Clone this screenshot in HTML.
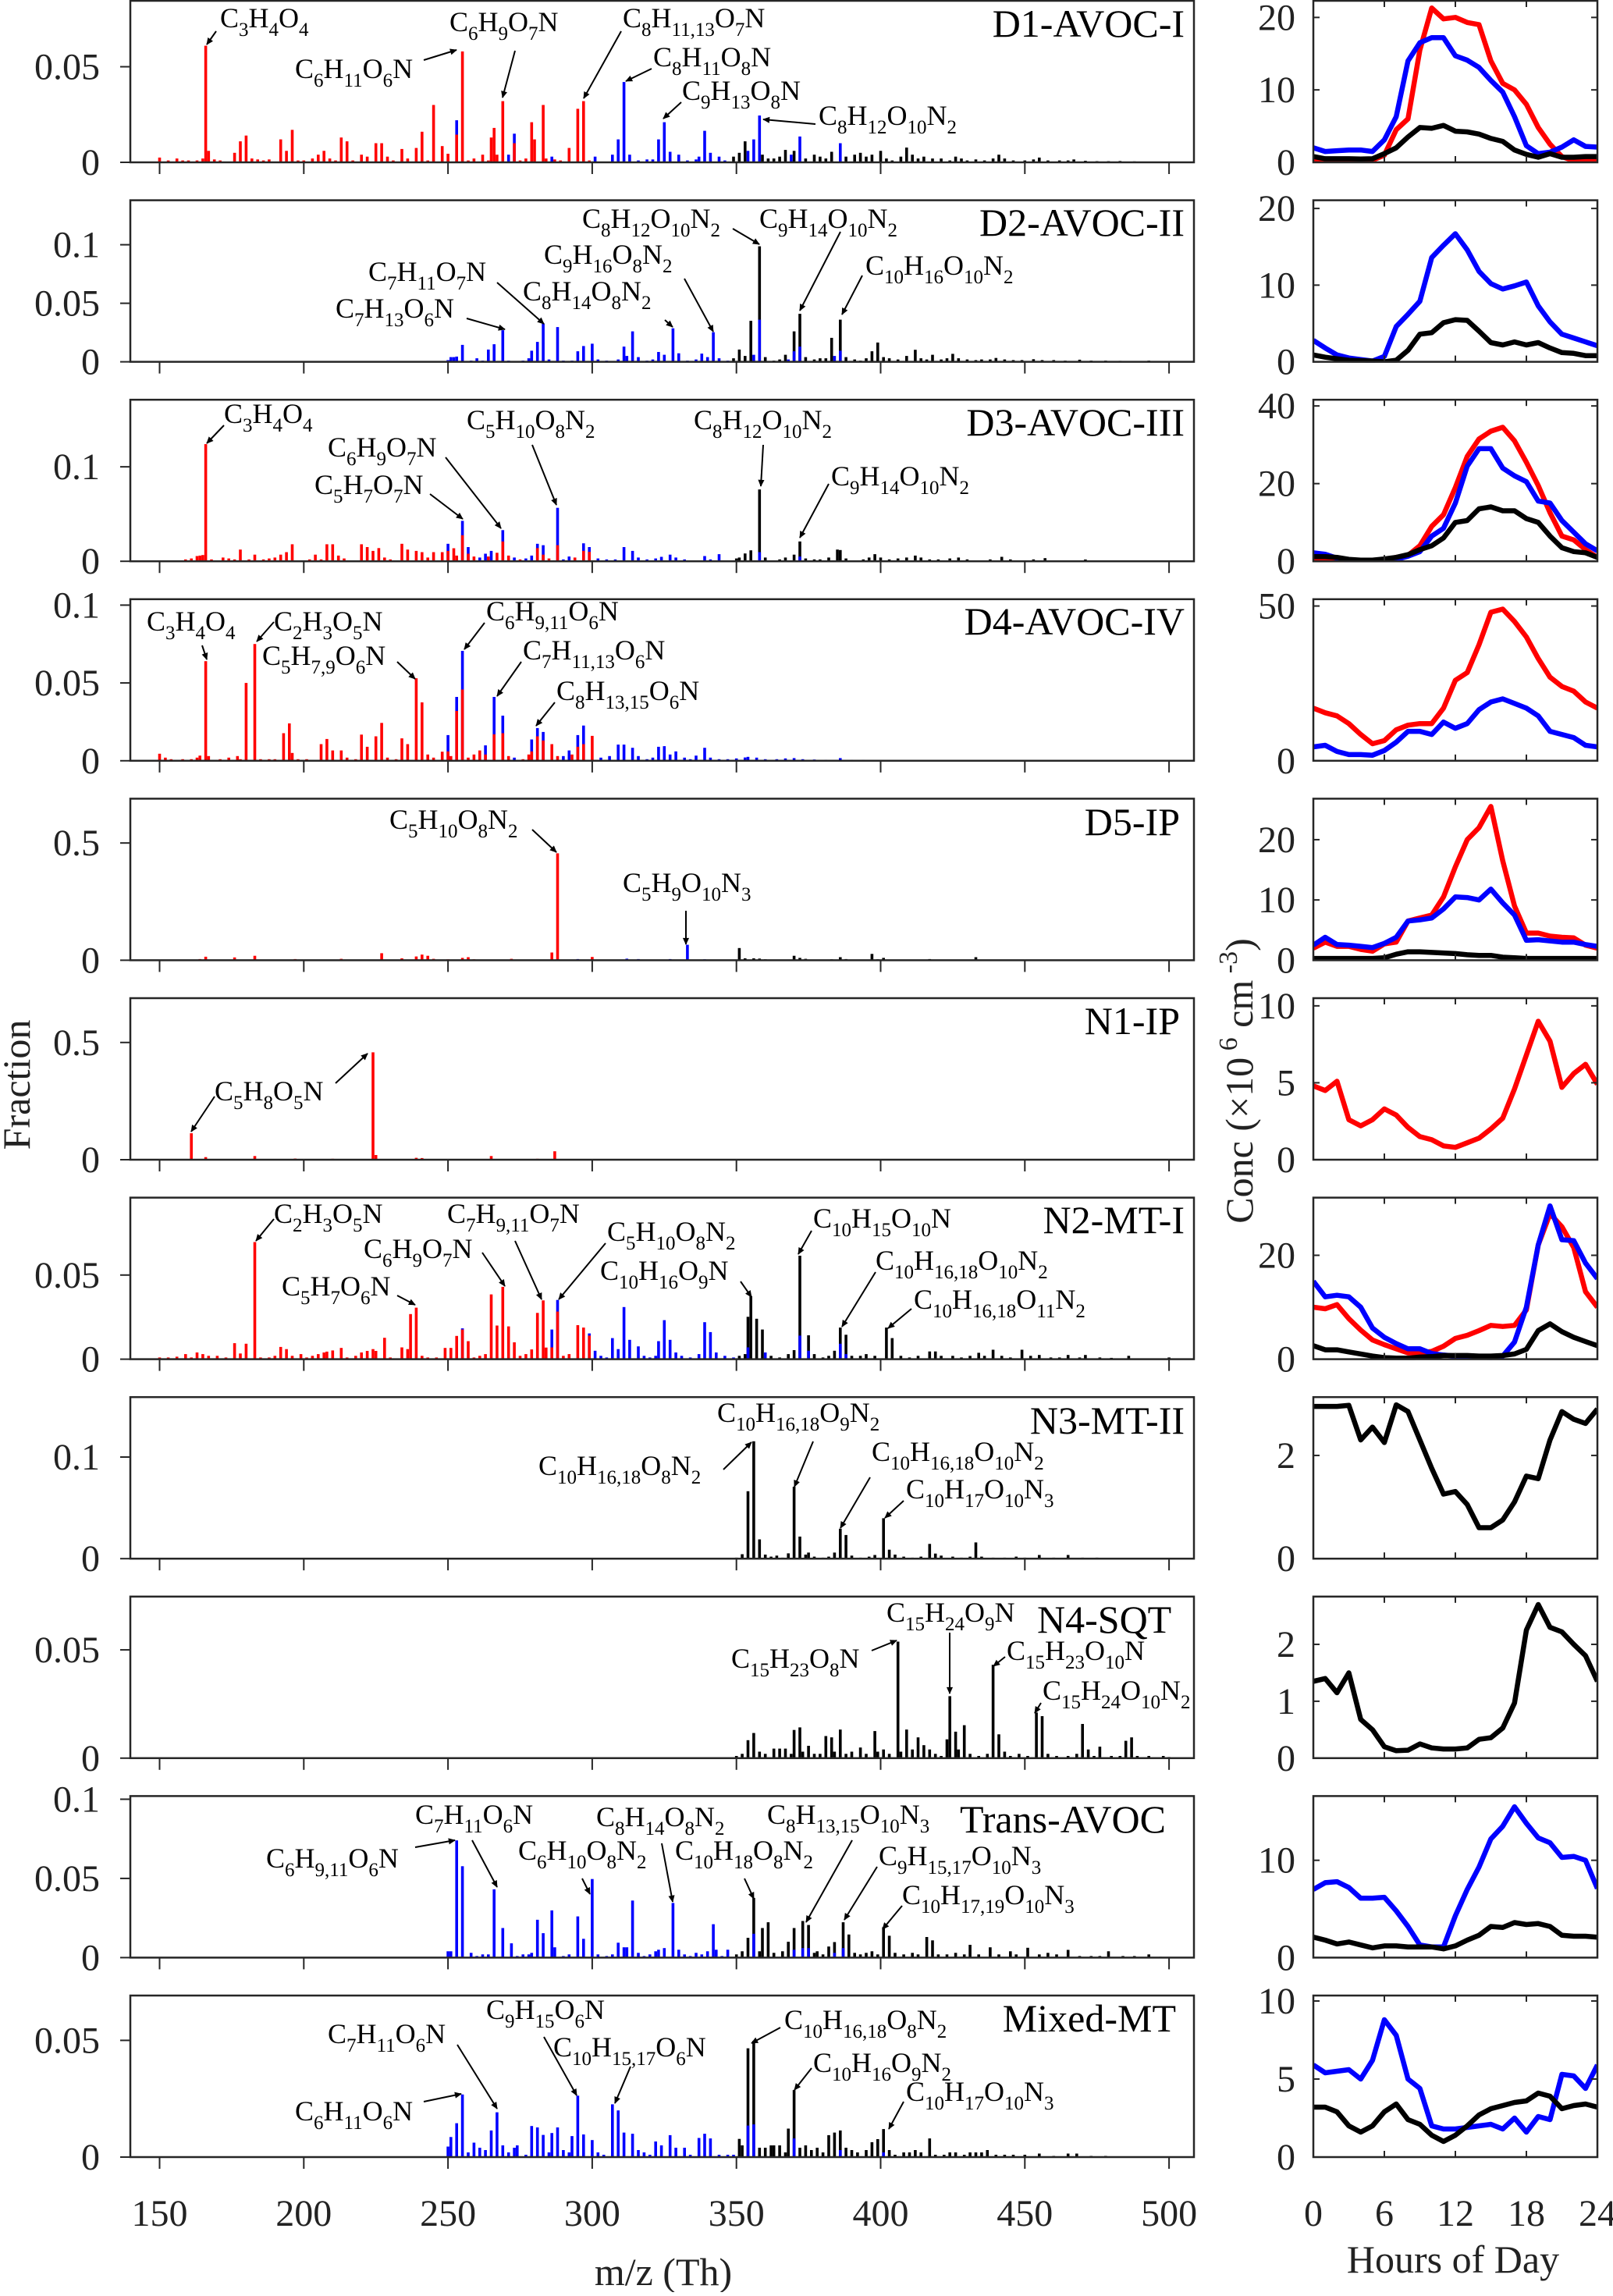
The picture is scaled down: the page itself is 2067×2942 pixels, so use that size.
<!DOCTYPE html>
<html><head><meta charset="utf-8"><title>Factor mass spectra and diurnal profiles</title>
<style>
html,body{margin:0;padding:0;background:#fff;}
svg, svg text, svg tspan{font-family:"Liberation Serif","Times New Roman",Times,serif;}
</style></head>
<body>
<svg id="chart" xmlns="http://www.w3.org/2000/svg" width="2067" height="2937" viewBox="0 0 2067 2937" font-family="Liberation Serif, Times New Roman, Times, serif">
<defs>
<marker id="arrowhead" viewBox="0 0 10 10" refX="9" refY="5" markerWidth="11" markerHeight="9" orient="auto-start-reverse" markerUnits="userSpaceOnUse">
<path d="M0,0.5 L10,5 L0,9.5 Z" fill="#000"/>
</marker>
</defs>
<rect x="0" y="0" width="2067" height="2937" fill="#fff"/>
<text x="0" y="0" font-size="50" font-family="Liberation Serif, serif" text-anchor="middle" fill="#222" transform="translate(38,1390) rotate(-90)">Fraction</text>
<text x="0" y="0" font-size="50" font-family="Liberation Serif, serif" text-anchor="middle" fill="#222" transform="translate(1605,1385) rotate(-90)">Conc (×10<tspan font-size="34" dy="-20"> 6</tspan><tspan dy="20"> cm</tspan><tspan font-size="34" dy="-20"> -3</tspan><tspan dy="20">)</tspan></text>
<text x="850" y="2928" font-size="50" font-family="Liberation Serif, serif" text-anchor="middle" fill="#222">m/z (Th)</text>
<text x="1862" y="2912" font-size="50" font-family="Liberation Serif, serif" text-anchor="middle" fill="#222">Hours of Day</text>
</svg>
<script>
// ---------------- data ----------------
const panelNames = ['D1-AVOC-I','D2-AVOC-II','D3-AVOC-III','D4-AVOC-IV','D5-IP','N1-IP','N2-MT-I','N3-MT-II','N4-SQT','Trans-AVOC','Mixed-MT'];
const leftMax = [0.0845,0.138,0.171,0.1038,0.689,0.689,0.096,0.159,0.0746,0.102,0.0692];
const leftTicks = [[0,0.05],[0,0.05,0.1],[0,0.1],[0,0.05,0.1],[0,0.5],[0,0.5],[0,0.05],[0,0.1],[0,0.05],[0,0.05,0.1],[0,0.05]];
const leftTickLabels = [['0','0.05'],['0','0.05','0.1'],['0','0.1'],['0','0.05','0.1'],['0','0.5'],['0','0.5'],['0','0.05'],['0','0.1'],['0','0.05'],['0','0.05','0.1'],['0','0.05']];
const mzTicks = [150,200,250,300,350,400,450,500];
const mzTickLabels = ['150','200','250','300','350','400','450','500'];
const hourTicks = [0,6,12,18,24];
const hourTickLabels = ['0','6','12','18','24'];
const hours = [0,1,2,3,4,5,6,7,8,9,10,11,12,13,14,15,16,17,18,19,20,21,22,23,24];
const rightMax = [22.3,21.07,41.6,52.2,26.8,10.5,31.1,3.13,2.84,16.6,10.35];
const rightTicks = [[0,10,20],[0,10,20],[0,20,40],[0,50],[0,10,20],[0,5,10],[0,20],[0,2],[0,1,2],[0,10],[0,5,10]];
const rightTickLabels = [['0','10','20'],['0','10','20'],['0','20','40'],['0','50'],['0','10','20'],['0','5','10'],['0','20'],['0','2'],['0','1','2'],['0','10'],['0','5','10']];
const seriesColors = ['#ff0000','#0000ff','#000000'];

// bars: [m/z, fraction, colorIndex(0 red,1 blue,2 black)]
const bars1 = [[150,0.0025,0],[153,0.001,0],[156,0.002,0],[158,0.001,0],[160,0.001,0],[163,0.001,0],[165,0.002,0],[166,0.061,0],[167,0.006,0],[169,0.0015,0],[171,0.001,0],[176,0.005,0],[178,0.011,0],[180,0.014,0],[182,0.002,0],[184,0.0015,0],[186,0.001,0],[188,0.0015,0],[192,0.012,0],[194,0.006,0],[196,0.017,0],[198,0.001,0],[200,0.001,0],[203,0.002,0],[205,0.004,0],[207,0.006,0],[209,0.002,0],[211,0.001,0],[213,0.013,0],[215,0.011,0],[217,0.001,0],[220,0.004,0],[222,0.003,0],[225,0.010,0],[227,0.010,0],[229,0.003,0],[231,0.001,0],[234,0.007,0],[236,0.002,0],[239,0.0075,0],[241,0.016,0],[243,0.001,0],[245,0.030,0],[248,0.0085,0],[250,0.0045,0],[253,0.022,1],[253,0.0145,0],[255,0.058,0],[257,0.001,0],[259,0.002,0],[262,0.004,0],[264,0.001,0],[265,0.013,0],[266,0.018,0],[267,0.004,0],[269,0.032,0],[271,0.004,1],[273,0.015,1],[273,0.010,0],[275,0.001,0],[277,0.002,0],[279,0.021,0],[280,0.012,0],[283,0.030,0],[284,0.002,0],[286,0.003,1],[287,0.0015,0],[289,0.001,0],[292,0.0075,0],[295,0.028,0],[297,0.032,0],[299,0.001,0],[301,0.003,1],[307,0.004,1],[309,0.012,1],[311,0.042,1],[313,0.004,1],[316,0.001,1],[319,0.0015,1],[321,0.0015,1],[323,0.012,1],[325,0.021,1],[327,0.0055,1],[330,0.004,1],[333,0.001,1],[336,0.0015,1],[337,0.003,1],[339,0.0165,1],[341,0.005,1],[344,0.003,1],[346,0.001,1],[349,0.003,2],[351,0.005,2],[353,0.011,2],[354,0.006,1],[356,0.012,1],[358,0.0245,1],[359,0.004,2],[361,0.002,2],[363,0.002,2],[365,0.003,2],[367,0.0065,2],[369,0.004,1],[370,0.006,2],[372,0.0135,1],[374,0.002,2],[377,0.004,2],[379,0.003,2],[381,0.002,2],[383,0.0055,2],[386,0.010,1],[388,0.003,2],[391,0.004,2],[393,0.005,2],[395,0.003,2],[397,0.004,2],[400,0.006,2],[402,0.002,2],[404,0.001,2],[407,0.003,2],[409,0.0077,2],[411,0.004,2],[413,0.002,2],[415,0.003,2],[418,0.002,2],[421,0.002,2],[424,0.001,2],[426,0.003,2],[428,0.002,2],[430,0.001,2],[433,0.0015,2],[436,0.001,2],[439,0.002,2],[441,0.004,2],[443,0.002,2],[446,0.001,2],[450,0.001,2],[453,0.0015,2],[455,0.0025,2],[458,0.001,2],[462,0.001,2],[465,0.001,2],[467,0.0015,2],[471,0.0008,2],[475,0.0006,2],[479,0.0006,2],[483,0.0007,2],[488,0.0005,2],[492,0.0004,2],[497,0.0003,2]];
const bars2 = [[250,0.0015,1],[251,0.004,1],[252,0.004,1],[253,0.0045,1],[255,0.0145,1],[258,0.001,1],[260,0.003,1],[262,0.001,1],[264,0.0105,1],[266,0.015,1],[269,0.027,1],[271,0.001,1],[276,0.001,1],[278,0.003,1],[279,0.0095,1],[281,0.017,1],[283,0.0326,1],[285,0.002,1],[288,0.0297,1],[290,0.001,1],[293,0.001,1],[295,0.009,1],[297,0.0135,1],[300,0.0155,1],[302,0.002,1],[305,0.001,1],[309,0.002,1],[311,0.013,1],[312,0.005,1],[314,0.026,1],[316,0.004,1],[319,0.001,1],[321,0.002,1],[323,0.0084,1],[325,0.006,1],[328,0.0286,1],[330,0.0073,1],[333,0.001,1],[336,0.002,1],[338,0.007,1],[340,0.004,1],[342,0.0253,1],[344,0.003,1],[347,0.001,1],[349,0.003,2],[351,0.0105,2],[353,0.005,2],[355,0.035,2],[356,0.006,1],[358,0.0987,2],[358,0.036,1],[360,0.004,2],[363,0.001,2],[365,0.002,2],[367,0.006,2],[368,0.002,1],[370,0.026,2],[370,0.009,1],[372,0.041,2],[372,0.013,1],[374,0.004,2],[377,0.002,2],[379,0.003,2],[381,0.003,2],[383,0.0205,2],[384,0.005,1],[386,0.036,2],[386,0.0095,1],[388,0.004,2],[391,0.002,2],[393,0.001,2],[395,0.003,2],[397,0.009,2],[399,0.0165,2],[401,0.004,2],[403,0.003,2],[406,0.002,2],[409,0.005,2],[412,0.0103,2],[414,0.003,2],[416,0.002,2],[418,0.006,2],[421,0.002,2],[423,0.003,2],[425,0.0068,2],[427,0.003,2],[430,0.002,2],[433,0.0015,2],[435,0.002,2],[438,0.002,2],[440,0.0033,2],[443,0.002,2],[446,0.0015,2],[449,0.0015,2],[453,0.0022,2],[456,0.0015,2],[460,0.0015,2],[464,0.001,2],[469,0.0018,2],[473,0.001,2],[478,0.001,2],[483,0.0008,2],[488,0.0006,2],[493,0.001,2],[498,0.0004,2]];
const bars3 = [[156,0.001,0],[159,0.002,0],[161,0.003,0],[163,0.0055,0],[164,0.006,0],[165,0.0066,0],[166,0.124,0],[168,0.002,0],[172,0.004,0],[174,0.003,0],[176,0.002,0],[178,0.0124,0],[181,0.002,0],[183,0.007,0],[186,0.002,0],[188,0.003,0],[190,0.004,0],[192,0.007,0],[194,0.0097,0],[196,0.018,0],[199,0.001,0],[202,0.002,0],[204,0.007,0],[206,0.002,0],[208,0.018,0],[210,0.018,0],[212,0.006,0],[214,0.003,0],[217,0.001,0],[220,0.018,0],[222,0.015,0],[224,0.011,0],[226,0.014,0],[228,0.004,0],[230,0.002,0],[234,0.0185,0],[236,0.0124,0],[239,0.011,0],[241,0.0097,0],[243,0.004,0],[245,0.0097,0],[248,0.0097,0],[250,0.0185,1],[250,0.011,0],[252,0.0138,0],[253,0.006,0],[255,0.0428,1],[255,0.0276,0],[257,0.015,1],[257,0.008,0],[259,0.005,0],[261,0.004,1],[263,0.008,1],[264,0.005,0],[265,0.011,1],[267,0.009,0],[269,0.033,1],[269,0.021,0],[271,0.006,0],[273,0.004,1],[275,0.002,0],[277,0.003,1],[279,0.006,1],[281,0.0185,1],[281,0.014,0],[283,0.017,1],[283,0.007,0],[285,0.003,0],[288,0.0566,1],[288,0.017,0],[290,0.002,1],[292,0.005,1],[294,0.004,0],[297,0.019,1],[297,0.011,0],[299,0.015,1],[299,0.010,0],[302,0.003,1],[305,0.002,1],[308,0.002,1],[311,0.015,1],[314,0.011,1],[316,0.004,1],[319,0.002,1],[322,0.003,1],[324,0.0047,1],[327,0.007,1],[329,0.004,1],[332,0.002,1],[335,0.001,1],[339,0.0055,1],[341,0.002,1],[344,0.0075,1],[347,0.001,1],[350,0.003,2],[351,0.004,2],[353,0.0083,2],[355,0.0116,2],[358,0.076,2],[358,0.0097,1],[360,0.004,2],[362,0.001,2],[365,0.002,2],[367,0.004,2],[370,0.007,2],[372,0.021,2],[372,0.005,1],[374,0.003,2],[377,0.002,2],[379,0.002,2],[382,0.004,2],[385,0.0124,2],[386,0.0119,2],[388,0.003,2],[391,0.001,2],[394,0.002,2],[396,0.004,2],[398,0.0075,2],[400,0.004,2],[403,0.002,2],[406,0.003,2],[409,0.004,2],[412,0.006,2],[414,0.004,2],[417,0.002,2],[420,0.002,2],[424,0.003,2],[427,0.004,2],[430,0.002,2],[434,0.001,2],[438,0.002,2],[442,0.0047,2],[445,0.002,2],[449,0.001,2],[453,0.002,2],[457,0.0033,2],[461,0.001,2],[466,0.001,2],[471,0.0019,2],[476,0.001,2],[482,0.0008,2],[487,0.001,2],[493,0.0005,2]];
const bars4 = [[150,0.0045,0],[152,0.002,0],[154,0.001,0],[158,0.001,0],[161,0.001,0],[163,0.002,0],[164,0.0033,0],[166,0.064,0],[167,0.003,0],[171,0.001,0],[174,0.002,0],[177,0.003,0],[178,0.001,0],[180,0.050,0],[183,0.075,0],[185,0.001,0],[188,0.001,0],[190,0.001,0],[193,0.0177,0],[195,0.024,0],[196,0.005,0],[198,0.001,0],[201,0.001,0],[206,0.0107,0],[208,0.014,0],[210,0.0066,0],[213,0.0066,0],[215,0.002,0],[218,0.001,0],[220,0.0168,0],[222,0.009,0],[225,0.0157,0],[227,0.0243,0],[229,0.002,0],[232,0.001,0],[234,0.0144,0],[236,0.0107,0],[239,0.053,0],[241,0.0375,0],[243,0.004,0],[245,0.002,0],[248,0.0058,0],[250,0.0165,1],[250,0.006,0],[251,0.003,0],[253,0.041,1],[253,0.032,0],[255,0.0706,1],[255,0.0458,0],[257,0.002,0],[259,0.004,0],[261,0.0066,0],[263,0.0099,1],[263,0.004,0],[266,0.041,1],[266,0.017,0],[269,0.029,1],[269,0.0177,0],[271,0.003,0],[273,0.002,1],[276,0.001,0],[278,0.004,0],[279,0.0137,1],[279,0.006,0],[281,0.021,1],[281,0.0157,0],[283,0.0185,1],[283,0.013,0],[286,0.0107,0],[288,0.003,0],[290,0.003,1],[292,0.0066,1],[293,0.004,0],[295,0.0165,1],[295,0.009,0],[297,0.0226,1],[297,0.0107,0],[300,0.016,0],[303,0.002,1],[306,0.003,1],[309,0.0104,1],[311,0.0104,1],[314,0.0083,1],[316,0.003,1],[319,0.001,1],[321,0.002,1],[323,0.009,1],[325,0.0094,1],[327,0.004,1],[329,0.006,1],[332,0.002,1],[334,0.001,1],[336,0.0033,1],[339,0.0083,1],[341,0.002,1],[344,0.001,1],[347,0.001,1],[350,0.0015,1],[353,0.0021,1],[354,0.0025,1],[357,0.002,1],[360,0.001,1],[364,0.001,1],[367,0.0015,1],[370,0.0017,1],[373,0.001,1],[377,0.0008,1],[381,0.0006,1],[386,0.0017,1],[390,0.0005,1],[394,0.0005,1]];
const bars5 = [[155,0.002,0],[160,0.003,0],[164,0.005,0],[166,0.015,0],[172,0.002,0],[176,0.012,0],[178,0.002,0],[183,0.019,0],[190,0.002,0],[195,0.003,0],[197,0.005,0],[204,0.002,0],[210,0.002,0],[213,0.006,0],[218,0.002,0],[222,0.002,0],[227,0.030,0],[230,0.002,0],[234,0.008,0],[237,0.003,0],[239,0.016,0],[241,0.024,0],[243,0.019,0],[245,0.006,0],[248,0.003,0],[250,0.004,0],[253,0.003,0],[255,0.010,0],[257,0.013,0],[259,0.004,0],[263,0.002,0],[266,0.003,0],[269,0.002,0],[272,0.006,0],[276,0.002,0],[279,0.002,0],[283,0.003,0],[286,0.033,0],[288,0.456,0],[291,0.002,0],[295,0.005,1],[298,0.002,0],[300,0.014,0],[303,0.002,1],[307,0.002,1],[310,0.003,1],[312,0.0066,1],[314,0.003,1],[316,0.005,1],[320,0.002,1],[324,0.003,1],[327,0.005,1],[330,0.002,1],[333,0.066,1],[336,0.003,1],[339,0.004,1],[342,0.002,1],[345,0.003,1],[348,0.002,1],[351,0.052,2],[353,0.008,2],[356,0.008,2],[358,0.007,2],[360,0.004,2],[363,0.003,2],[366,0.002,2],[368,0.003,2],[370,0.019,2],[372,0.010,2],[374,0.006,2],[377,0.003,2],[380,0.002,2],[383,0.004,2],[386,0.013,2],[388,0.005,2],[391,0.002,2],[394,0.002,2],[397,0.027,2],[399,0.004,2],[401,0.010,2],[404,0.003,2],[408,0.002,2],[412,0.002,2],[417,0.005,2],[421,0.002,2],[425,0.002,2],[429,0.003,2],[433,0.013,2],[437,0.002,2],[443,0.001,2],[450,0.001,2],[458,0.001,2],[465,0.002,2],[472,0.001,2],[480,0.001,2]];
const bars6 = [[155,0.001,0],[158,0.002,0],[161,0.113,0],[163,0.001,0],[166,0.011,0],[170,0.001,0],[175,0.002,0],[179,0.002,0],[183,0.0155,0],[187,0.002,0],[192,0.001,0],[197,0.005,0],[202,0.001,0],[206,0.002,0],[210,0.004,0],[214,0.001,0],[219,0.001,0],[224,0.458,0],[225,0.02,0],[228,0.002,0],[232,0.001,0],[236,0.002,0],[239,0.008,0],[241,0.007,0],[245,0.002,0],[250,0.002,0],[254,0.002,0],[258,0.001,0],[262,0.002,0],[265,0.0155,0],[268,0.002,0],[272,0.001,0],[276,0.002,0],[279,0.001,0],[281,0.004,0],[284,0.002,0],[287,0.036,0],[290,0.002,0],[293,0.001,0],[297,0.002,0],[300,0.001,0]];
const bars7 = [[150,0.001,0],[153,0.001,0],[156,0.0015,0],[159,0.003,0],[161,0.001,0],[163,0.004,0],[165,0.003,0],[167,0.002,0],[170,0.002,0],[173,0.001,0],[176,0.0095,0],[178,0.0034,0],[180,0.0092,0],[183,0.0696,0],[185,0.001,0],[188,0.001,0],[190,0.002,0],[192,0.0073,0],[194,0.006,0],[196,0.002,0],[199,0.003,0],[201,0.001,0],[203,0.002,0],[205,0.003,0],[207,0.004,0],[208,0.0045,0],[210,0.0052,0],[213,0.0067,0],[215,0.001,0],[218,0.002,0],[220,0.004,0],[222,0.0049,0],[224,0.006,0],[225,0.0049,0],[228,0.0127,0],[230,0.001,0],[234,0.007,0],[236,0.006,0],[237,0.0268,0],[239,0.0306,0],[241,0.002,0],[243,0.001,0],[246,0.001,0],[249,0.0067,0],[251,0.0067,0],[253,0.0138,0],[255,0.0183,1],[255,0.0176,0],[257,0.0107,0],[259,0.001,0],[261,0.002,0],[263,0.003,0],[265,0.0385,0],[267,0.020,0],[269,0.043,0],[271,0.0195,0],[273,0.010,0],[275,0.002,0],[277,0.003,0],[279,0.0058,0],[281,0.0275,0],[283,0.0349,0],[284,0.0069,0],[286,0.0176,1],[286,0.007,0],[288,0.0352,1],[288,0.0283,0],[290,0.002,0],[292,0.003,0],[295,0.0202,0],[297,0.0188,0],[299,0.0153,1],[299,0.014,0],[301,0.005,1],[303,0.002,1],[305,0.001,1],[307,0.0125,1],[309,0.006,1],[311,0.031,1],[313,0.0115,1],[316,0.0076,1],[318,0.002,1],[320,0.001,1],[322,0.002,1],[323,0.0107,1],[325,0.0232,1],[327,0.0115,1],[329,0.004,1],[331,0.002,1],[334,0.001,1],[337,0.003,1],[339,0.022,1],[341,0.0161,1],[343,0.004,1],[346,0.002,1],[349,0.001,1],[351,0.002,2],[353,0.003,2],[354,0.0252,2],[354,0.007,1],[355,0.0375,2],[357,0.024,2],[359,0.0176,2],[360,0.004,1],[362,0.002,2],[365,0.001,2],[368,0.003,2],[370,0.0054,2],[372,0.0615,2],[372,0.014,1],[375,0.0142,2],[375,0.005,1],[377,0.003,2],[380,0.001,2],[382,0.002,2],[384,0.005,2],[386,0.0188,2],[386,0.0092,1],[388,0.0145,2],[388,0.003,1],[390,0.002,2],[393,0.002,2],[395,0.003,2],[398,0.002,2],[402,0.0188,2],[404,0.0125,2],[407,0.002,2],[410,0.001,2],[413,0.002,2],[417,0.0046,2],[419,0.0046,2],[421,0.002,2],[425,0.002,2],[428,0.001,2],[431,0.002,2],[434,0.0038,2],[436,0.002,2],[439,0.0056,2],[442,0.002,2],[445,0.001,2],[449,0.0056,2],[452,0.002,2],[455,0.0025,2],[459,0.001,2],[462,0.001,2],[465,0.0025,2],[469,0.001,2],[471,0.0025,2],[476,0.001,2],[480,0.0008,2],[486,0.002,2],[490,0.0005,2],[495,0.0005,2],[500,0.001,2]];
const bars8 = [[350,0.001,2],[352,0.0044,2],[354,0.0664,2],[356,0.1155,2],[358,0.019,2],[360,0.004,2],[362,0.002,2],[364,0.003,2],[366,0.001,2],[368,0.0052,2],[370,0.0708,2],[372,0.0217,2],[374,0.004,2],[375,0.006,2],[377,0.002,2],[380,0.001,2],[382,0.002,2],[384,0.006,2],[386,0.0295,2],[388,0.0233,2],[390,0.003,2],[393,0.001,2],[396,0.002,2],[398,0.0036,2],[401,0.0398,2],[403,0.0088,2],[405,0.004,2],[408,0.002,2],[411,0.001,2],[414,0.002,2],[417,0.0145,2],[419,0.005,2],[421,0.003,2],[425,0.002,2],[428,0.001,2],[431,0.002,2],[433,0.016,2],[435,0.002,2],[439,0.001,2],[443,0.001,2],[447,0.002,2],[450,0.001,2],[455,0.0036,2],[460,0.001,2],[465,0.0036,2],[470,0.001,2],[475,0.001,2]];
const bars9 = [[350,0.001,2],[352,0.002,2],[354,0.0083,2],[356,0.0116,2],[358,0.003,2],[360,0.002,2],[363,0.0044,2],[365,0.0044,2],[367,0.0044,2],[369,0.002,2],[370,0.013,2],[372,0.0142,2],[373,0.003,2],[375,0.0057,2],[377,0.002,2],[379,0.002,2],[381,0.0102,2],[383,0.0096,2],[384,0.003,2],[386,0.0132,2],[388,0.002,2],[390,0.003,2],[393,0.0049,2],[395,0.002,2],[398,0.0125,2],[399,0.003,2],[401,0.004,2],[403,0.002,2],[406,0.0538,2],[407,0.003,2],[409,0.0132,2],[411,0.004,2],[413,0.0096,2],[415,0.006,2],[417,0.004,2],[419,0.002,2],[421,0.001,2],[423,0.0087,2],[424,0.0286,2],[426,0.0122,2],[427,0.004,2],[429,0.0152,2],[431,0.002,2],[434,0.001,2],[437,0.002,2],[439,0.0431,2],[441,0.011,2],[443,0.003,2],[445,0.001,2],[448,0.002,2],[451,0.001,2],[454,0.0211,2],[456,0.0194,2],[458,0.002,2],[461,0.001,2],[465,0.001,2],[468,0.002,2],[470,0.0158,2],[472,0.004,2],[474,0.001,2],[476,0.0053,2],[480,0.001,2],[483,0.001,2],[485,0.008,2],[487,0.0096,2],[489,0.001,2],[493,0.001,2],[498,0.001,2],[500,0.0005,2]];
const bars10 = [[250,0.004,1],[251,0.004,1],[253,0.074,1],[255,0.0577,1],[258,0.003,1],[260,0.001,1],[262,0.002,1],[264,0.002,1],[266,0.0431,1],[269,0.0187,1],[272,0.009,1],[274,0.001,1],[276,0.002,1],[278,0.002,1],[279,0.003,1],[281,0.0239,1],[283,0.0154,1],[286,0.0298,1],[287,0.0065,1],[290,0.001,1],[292,0.002,1],[295,0.026,1],[297,0.0119,1],[300,0.0496,1],[302,0.002,1],[305,0.001,1],[307,0.002,1],[309,0.0094,1],[311,0.0065,1],[312,0.0065,1],[314,0.036,1],[316,0.003,1],[318,0.001,1],[320,0.002,1],[322,0.004,1],[323,0.005,1],[325,0.006,1],[328,0.0345,1],[330,0.005,1],[332,0.002,1],[334,0.001,1],[336,0.003,1],[338,0.002,1],[340,0.004,1],[342,0.0211,1],[343,0.005,1],[345,0.001,1],[347,0.005,1],[350,0.002,2],[352,0.004,2],[354,0.0125,2],[356,0.0377,2],[356,0.0151,1],[358,0.004,2],[359,0.0187,2],[361,0.0223,2],[363,0.003,2],[366,0.004,2],[368,0.01,2],[370,0.0187,2],[370,0.005,1],[373,0.0231,2],[373,0.006,1],[375,0.0206,2],[375,0.006,1],[377,0.003,2],[378,0.004,2],[380,0.002,2],[382,0.007,2],[384,0.0098,2],[384,0.003,1],[387,0.0223,2],[387,0.006,1],[389,0.0146,2],[391,0.003,2],[393,0.002,2],[395,0.003,2],[397,0.004,2],[399,0.002,2],[401,0.0192,2],[403,0.0138,2],[405,0.003,2],[408,0.002,2],[411,0.003,2],[413,0.002,2],[416,0.013,2],[418,0.0109,2],[420,0.002,2],[423,0.002,2],[426,0.003,2],[429,0.002,2],[431,0.0081,2],[434,0.002,2],[438,0.0065,2],[441,0.002,2],[445,0.004,2],[447,0.002,2],[451,0.0062,2],[455,0.002,2],[458,0.003,2],[461,0.002,2],[465,0.0049,2],[469,0.001,2],[473,0.001,2],[476,0.001,2],[479,0.004,2],[484,0.001,2],[488,0.001,2],[493,0.002,2],[497,0.0005,2]];
const bars11 = [[250,0.0045,1],[251,0.0086,1],[253,0.0145,1],[255,0.0268,1],[257,0.002,1],[259,0.0062,1],[261,0.004,1],[263,0.003,1],[265,0.0114,1],[267,0.0192,1],[269,0.005,1],[271,0.002,1],[273,0.004,1],[274,0.005,1],[277,0.001,1],[279,0.0133,1],[281,0.0127,1],[283,0.0095,1],[285,0.002,1],[286,0.0103,1],[288,0.0127,1],[290,0.003,1],[292,0.002,1],[293,0.009,1],[295,0.0263,1],[297,0.0097,1],[300,0.0073,1],[302,0.002,1],[304,0.001,1],[307,0.0226,1],[309,0.020,1],[311,0.0105,1],[314,0.010,1],[316,0.003,1],[318,0.002,1],[320,0.001,1],[322,0.0067,1],[324,0.005,1],[327,0.0094,1],[329,0.004,1],[332,0.004,1],[334,0.001,1],[337,0.0082,1],[339,0.010,1],[341,0.008,1],[344,0.001,1],[347,0.001,1],[349,0.001,1],[351,0.0078,2],[352,0.005,2],[354,0.0466,2],[354,0.0135,1],[356,0.0498,2],[356,0.014,1],[358,0.004,2],[360,0.004,2],[362,0.005,2],[363,0.005,2],[365,0.005,2],[367,0.002,2],[368,0.0122,2],[370,0.0287,2],[370,0.008,1],[372,0.004,2],[374,0.005,2],[376,0.003,2],[378,0.004,2],[380,0.002,2],[382,0.0094,2],[384,0.0105,2],[386,0.0114,2],[386,0.003,1],[388,0.004,2],[390,0.003,2],[392,0.002,2],[395,0.003,2],[397,0.0064,2],[399,0.0077,2],[401,0.012,2],[401,0.002,1],[403,0.003,2],[405,0.001,2],[408,0.002,2],[410,0.002,2],[412,0.003,2],[414,0.002,2],[417,0.008,2],[419,0.001,2],[422,0.001,2],[424,0.002,2],[426,0.002,2],[429,0.001,2],[431,0.002,2],[433,0.002,2],[435,0.002,2],[437,0.003,2],[440,0.001,2],[443,0.001,2],[446,0.001,2],[450,0.001,2],[455,0.0015,2],[460,0.0005,2],[465,0.0015,2],[468,0.0015,2],[473,0.0005,2],[478,0.0005,2],[485,0.0003,2]];
const allBars = [bars1,bars2,bars3,bars4,bars5,bars6,bars7,bars8,bars9,bars10,bars11];

// diurnal series (hours 0..24)
const r1Red   = [0.3,0.2,0.1,0,0,0.3,1,4.5,6,15.5,21.3,19.8,20,19.3,19,14,10.9,10,8,4.8,2.5,0.8,0.2,0.2,0.3];
const r1Blue  = [2,1.5,1.6,1.7,1.7,1.5,3.1,6.3,14,16.5,17.2,17.2,14.7,14.1,13.1,11.3,9.7,6.3,2.3,1.2,1.4,2.1,3.1,2.2,2.1];
const r1Black = [0.8,0.5,0.5,0.5,0.45,0.5,1.2,2,3.5,4.8,4.7,5.1,4.3,4.2,3.9,3.3,2.9,1.7,1.1,0.7,1.2,0.7,0.7,0.8,0.8];
const r2Blue  = [2.8,1.8,0.9,0.5,0.3,0.1,0.7,4.6,6.2,7.9,13.6,15.2,16.7,14.6,11.8,10.2,9.5,9.9,10.4,7.3,5.2,3.6,3.1,2.6,2.1];
const r2Black = [0.9,0.6,0.4,0.2,0.15,0.1,0,0.2,1.5,3.6,3.8,5.1,5.5,5.4,4,2.5,2.2,2.6,2.2,2.5,1.8,1.2,1.1,0.8,0.8];
const r3Red   = [0.5,0.3,0.2,0.1,0,0,0.3,1,1.5,4,9,12,19,27,31.5,33.5,34.5,31,25.5,19.5,12.5,6.5,5.5,3,1];
const r3Blue  = [2.2,1.8,0.8,0.2,0,0,0,0.5,1.3,2.5,6.5,8.5,15,24.5,29,29,24,22,20.5,15.5,15,10.5,7.5,4.5,2.7];
const r3Black = [1.2,1.2,1,0.5,0.3,0.3,0.6,1,1.7,3,4,6,10,10.5,13.5,14,13,13,11,10,6.5,3.5,2.5,2.2,1];
const r4Red   = [17,15.5,14.5,12,8.5,5.5,6.5,10,11.5,12,12,17,26,28.5,37.5,48,49,45,40,33,27,24,22.5,19,17];
const r4Blue  = [4.5,5,3,2,2,1.8,3.3,6,9.5,9.5,8.5,12.5,10.5,12,16.5,19,20,18.5,17,14.5,9.5,8.5,7.5,5,4.5];
const r5Red   = [2,3,2.3,2.3,1.8,1.5,2.7,3,6.5,7,7.5,10.5,15.5,20,22,25.5,16.5,9,4.5,4.5,4,3.8,3.7,2.5,2];
const r5Blue  = [2.5,3.8,2.6,2.5,2.3,2.1,2.8,3.8,6.5,6.7,7,8.5,10.5,10.4,10,11.8,9.5,7.5,3.3,3.4,3.2,3,3,2.6,2.3];
const r5Black = [0.3,0.3,0.3,0.3,0.3,0.3,0.4,1,1.4,1.4,1.3,1.2,1.1,0.9,0.8,0.8,0.5,0.4,0.3,0.3,0.3,0.3,0.3,0.3,0.3];
const r6Red   = [4.8,4.5,5.1,2.6,2.2,2.6,3.3,2.9,2.1,1.5,1.3,0.9,0.8,1.1,1.4,2,2.7,4.6,6.8,9,7.7,4.7,5.6,6.2,4.9];
const r7Red   = [10,9.7,10.5,7.8,5.6,3.7,2.8,2,1.2,1.2,1.5,2.5,4,4.6,5.5,6.5,6.3,6.5,9.5,22,28,25.5,21.5,13,10];
const r7Blue  = [15,12,12.3,12,10,6,4.2,3,2,2,1.1,0.8,0.6,0.5,0.4,0.3,0.6,3.3,10,22,29.5,23,22.8,18.5,15.5];
const r7Black = [2.6,1.8,1.8,1.4,1,0.6,0.3,0.2,0.2,0.4,0.5,0.7,0.7,0.7,0.6,0.6,0.7,1,1.9,5.5,6.8,5.3,4.2,3.4,2.6];
const r8Black = [2.95,2.95,2.95,2.97,2.3,2.55,2.25,2.98,2.85,2.3,1.75,1.25,1.3,1.05,0.6,0.6,0.75,1.1,1.6,1.55,2.3,2.85,2.7,2.62,2.9];
const r9Black = [1.35,1.4,1.15,1.5,0.68,0.5,0.2,0.13,0.14,0.25,0.18,0.16,0.16,0.18,0.33,0.36,0.53,0.97,2.25,2.7,2.3,2.22,2.0,1.8,1.35];
const r10Blue = [7,7.7,7.8,7.2,6.1,6.1,6.2,4.8,3.2,1.3,1.1,1.1,4.3,7,9.3,12.2,13.5,15.5,13.8,12.3,11.8,10.3,10.4,10,7.1];
const r10Black= [2.1,1.8,1.4,1.6,1.3,1,1.2,1.2,1.1,1.1,1.1,0.9,1.2,1.8,2.3,3.2,3.1,3.6,3.4,3.5,3.2,2.3,2.2,2.2,2.1];
const r11Blue = [5.9,5.4,5.5,5.6,5,6.2,8.8,7.8,5,4.4,2,1.8,1.8,1.9,2,2.1,1.8,2.5,1.6,2.6,2.4,5.3,5.2,4.4,5.9];
const r11Black= [3.2,3.2,2.9,2,1.6,2,2.9,3.4,2.4,2.1,1.4,1,1.4,2,2.7,3.1,3.3,3.5,3.6,4.1,3.9,3.1,3.3,3.4,3.2];
const rightSeries = [
  [[r1Red,0],[r1Blue,1],[r1Black,2]],
  [[r2Blue,1],[r2Black,2]],
  [[r3Red,0],[r3Blue,1],[r3Black,2]],
  [[r4Red,0],[r4Blue,1]],
  [[r5Red,0],[r5Blue,1],[r5Black,2]],
  [[r6Red,0]],
  [[r7Red,0],[r7Blue,1],[r7Black,2]],
  [[r8Black,2]],
  [[r9Black,2]],
  [[r10Blue,1],[r10Black,2]],
  [[r11Blue,1],[r11Black,2]]
];

// annotations: [formula, textX, baselineY, arrowX1, arrowY1, arrowX2, arrowY2]
const annotations = [
 ['C_{3}H_{4}O_{4}',282,35,277,40,265,57],
 ['C_{6}H_{11}O_{6}N',378,100,543,77,585,64],
 ['C_{6}H_{9}O_{7}N',576,40,660,65,644,125],
 ['C_{8}H_{11,13}O_{7}N',798,35,796,40,748,126],
 ['C_{8}H_{11}O_{8}N',837,85,835,88,802,104],
 ['C_{9}H_{13}O_{8}N',874,128,873,131,850,152],
 ['C_{8}H_{12}O_{10}N_{2}',1049,160,1045,159,978,153],
 ['C_{8}H_{12}O_{10}N_{2}',746,292,939,293,973,313],
 ['C_{9}H_{14}O_{10}N_{2}',973,292,1077,297,1025,398],
 ['C_{9}H_{16}O_{8}N_{2}',697,338,877,357,914,425],
 ['C_{7}H_{11}O_{7}N',472,360,637,362,697,415],
 ['C_{8}H_{14}O_{8}N_{2}',670,385,852,410,862,419],
 ['C_{7}H_{13}O_{6}N',430,407,598,408,647,422],
 ['C_{10}H_{16}O_{10}N_{2}',1109,352,1105,353,1079,403],
 ['C_{3}H_{4}O_{4}',287,542,287,545,265,568],
 ['C_{5}H_{10}O_{8}N_{2}',598,550,682,570,713,647],
 ['C_{8}H_{12}O_{10}N_{2}',889,550,978,570,975,623],
 ['C_{6}H_{9}O_{7}N',420,585,571,586,642,677],
 ['C_{5}H_{7}O_{7}N',403,633,551,633,593,665],
 ['C_{9}H_{14}O_{10}N_{2}',1065,622,1062,620,1025,689],
 ['C_{3}H_{4}O_{4}',188,808,259,827,265,845],
 ['C_{2}H_{3}O_{5}N',351,808,351,797,329,822],
 ['C_{5}H_{7,9}O_{6}N',336,852,509,848,532,870],
 ['C_{6}H_{9,11}O_{6}N',623,795,621,798,595,832],
 ['C_{7}H_{11,13}O_{6}N',670,845,668,848,637,892],
 ['C_{8}H_{13,15}O_{6}N',713,897,711,900,687,930],
 ['C_{5}H_{10}O_{8}N_{2}',499,1062,682,1063,713,1092],
 ['C_{5}H_{9}O_{10}N_{3}',798,1143,879,1167,879,1210],
 ['C_{5}H_{8}O_{5}N',275,1410,275,1405,245,1450],
 ['',0,0,430,1388,471,1350],
 ['C_{2}H_{3}O_{5}N',351,1567,351,1562,328,1590],
 ['C_{7}H_{9,11}O_{7}N',573,1567,660,1590,694,1665],
 ['C_{6}H_{9}O_{7}N',466,1612,618,1605,647,1648],
 ['C_{5}H_{10}O_{8}N_{2}',778,1590,776,1593,716,1665],
 ['C_{10}H_{16}O_{9}N',769,1640,949,1642,963,1662],
 ['C_{10}H_{15}O_{10}N',1042,1573,1040,1577,1023,1607],
 ['C_{10}H_{16,18}O_{10}N_{2}',1122,1627,1122,1630,1079,1700],
 ['C_{10}H_{16,18}O_{11}N_{2}',1171,1677,1168,1677,1138,1702],
 ['C_{5}H_{7}O_{6}N',361,1660,509,1660,532,1672],
 ['C_{10}H_{16,18}O_{9}N_{2}',919,1822,1042,1847,1018,1905],
 ['C_{10}H_{16,18}O_{8}N_{2}',690,1890,927,1883,963,1848],
 ['C_{10}H_{16,18}O_{10}N_{2}',1117,1872,1115,1893,1077,1958],
 ['C_{10}H_{17}O_{10}N_{3}',1161,1920,1158,1923,1134,1945],
 ['C_{15}H_{24}O_{9}N',1136,2078,1217,2092,1217,2170],
 ['C_{15}H_{23}O_{8}N',937,2137,1117,2115,1149,2102],
 ['C_{15}H_{23}O_{10}N',1290,2127,1288,2123,1273,2135],
 ['C_{15}H_{24}O_{10}N_{2}',1336,2178,1334,2182,1326,2195],
 ['C_{7}H_{11}O_{6}N',532,2337,605,2358,637,2418],
 ['C_{6}H_{9,11}O_{6}N',341,2393,532,2367,583,2358],
 ['C_{8}H_{14}O_{8}N_{2}',764,2340,848,2362,862,2437],
 ['C_{6}H_{10}O_{8}N_{2}',664,2383,746,2407,756,2427],
 ['C_{10}H_{18}O_{8}N_{2}',865,2383,954,2407,966,2433],
 ['C_{8}H_{13,15}O_{10}N_{3}',983,2337,1092,2358,1033,2463],
 ['C_{9}H_{15,17}O_{10}N_{3}',1126,2390,1124,2392,1082,2460],
 ['C_{10}H_{17,19}O_{10}N_{3}',1156,2440,1156,2442,1131,2472],
 ['C_{7}H_{11}O_{6}N',420,2618,586,2620,637,2702],
 ['C_{9}H_{15}O_{6}N',623,2587,697,2610,739,2685],
 ['C_{10}H_{15,17}O_{6}N',709,2635,808,2648,788,2695],
 ['C_{6}H_{11}O_{6}N',378,2717,543,2693,591,2683],
 ['C_{10}H_{16,18}O_{8}N_{2}',1005,2600,1000,2598,963,2618],
 ['C_{10}H_{16}O_{9}N_{2}',1042,2655,1040,2650,1018,2678],
 ['C_{10}H_{17}O_{10}N_{3}',1161,2692,1158,2693,1139,2728]
];

// ---------------- layout ----------------
const NS = 'http://www.w3.org/2000/svg';
const FONT = 'Liberation Serif, Times New Roman, Times, serif';
const svg = document.getElementById('chart');
const TOP0 = 1, PITCH = 255.6, PH = 207;
const LX0 = 167, LX1 = 1530, RX0 = 1683, RX1 = 2047;
const AXC = '#262626';
function xMz(mz){ return 204.5 + (mz - 150) * 3.696; }
function xHour(h){ return RX0 + (h / 24) * (RX1 - RX0); }
function yVal(v, max, top){ return top + PH - (v / max) * PH; }
function make(tag){ return document.createElementNS(NS, tag); }

const nameLayout = [
 [1518,47,'end'],[1518,302,'end'],[1518,558,'end'],[1518,813,'end'],[1512,1070,'end'],[1512,1325,'end'],
 [1518,1580,'end'],[1518,1837,'end'],[1329,2092,'start'],[1230,2348,'start'],[1507,2603,'end']
];

for (let i = 0; i < 11; i++) {
  const top = TOP0 + PITCH * i, bot = top + PH;
  const gL = make('g');
  
  
  svg.appendChild(gL);
  const bars = allBars[i].slice().sort((a, b) => b[1] - a[1]);
  for (const b of bars) {
    const yTop = Math.max(yVal(b[1], leftMax[i], top), top);
    const r = make('rect');
    
    
    r.setAttribute('x', (xMz(b[0]) - 1.8).toFixed(1));
    r.setAttribute('y', yTop.toFixed(1));
    r.setAttribute('width', 3.6);
    r.setAttribute('height', Math.max(bot - yTop, 0.8).toFixed(1));
    r.setAttribute('fill', seriesColors[b[2]]);
    gL.appendChild(r);
  }
  const boxL = make('rect');
  
  
  boxL.setAttribute('x', LX0); boxL.setAttribute('y', top);
  boxL.setAttribute('width', LX1 - LX0); boxL.setAttribute('height', PH);
  boxL.setAttribute('fill', 'none'); boxL.setAttribute('stroke', AXC); boxL.setAttribute('stroke-width', 2.5);
  gL.appendChild(boxL);
  leftTicks[i].forEach((t, k) => {
    const y = yVal(t, leftMax[i], top);
    const tk = make('line');
    
    
    tk.setAttribute('x1', LX0 - 13); tk.setAttribute('x2', LX0);
    tk.setAttribute('y1', y); tk.setAttribute('y2', y);
    tk.setAttribute('stroke', AXC); tk.setAttribute('stroke-width', 2);
    gL.appendChild(tk);
    const tl = make('text');
    
    
    tl.setAttribute('x', 128); tl.setAttribute('y', Math.min(y + 16, bot + 16));
    tl.setAttribute('font-family', FONT);
    tl.setAttribute('font-size', 48); tl.setAttribute('text-anchor', 'end'); tl.setAttribute('fill', '#222');
    tl.textContent = leftTickLabels[i][k];
    gL.appendChild(tl);
  });
  mzTicks.forEach((m) => {
    const tk = make('line');
    
    
    tk.setAttribute('x1', xMz(m)); tk.setAttribute('x2', xMz(m));
    tk.setAttribute('y1', bot); tk.setAttribute('y2', bot + 15);
    tk.setAttribute('stroke', AXC); tk.setAttribute('stroke-width', 2);
    gL.appendChild(tk);
  });
  const nm = make('text');
  
  
  nm.setAttribute('x', nameLayout[i][0]); nm.setAttribute('y', nameLayout[i][1]);
  nm.setAttribute('font-family', FONT);
  nm.setAttribute('text-anchor', nameLayout[i][2]); nm.setAttribute('font-size', 50); nm.setAttribute('fill', '#000');
  nm.textContent = panelNames[i];
  gL.appendChild(nm);

  const gR = make('g');
  
  
  svg.appendChild(gR);
  const clipId = 'clip' + i;
  const cp = make('clipPath'); cp.setAttribute('id', clipId);
  const cr = make('rect'); cr.setAttribute('x', RX0); cr.setAttribute('y', top - 2); cr.setAttribute('width', RX1 - RX0); cr.setAttribute('height', PH + 3);
  cp.appendChild(cr); gR.appendChild(cp);
  rightSeries[i].forEach((s) => {
    const pts = s[0].map((v, h) => xHour(hours[h]).toFixed(1) + ',' + yVal(v, rightMax[i], top).toFixed(1)).join(' ');
    const pl = make('polyline');
    
    
    pl.setAttribute('points', pts);
    pl.setAttribute('fill', 'none'); pl.setAttribute('stroke', seriesColors[s[1]]);
    pl.setAttribute('stroke-width', 6.5); pl.setAttribute('stroke-linejoin', 'round');
    pl.setAttribute('clip-path', 'url(#' + clipId + ')');
    gR.appendChild(pl);
  });
  const boxR = make('rect');
  
  
  boxR.setAttribute('x', RX0); boxR.setAttribute('y', top);
  boxR.setAttribute('width', RX1 - RX0); boxR.setAttribute('height', PH);
  boxR.setAttribute('fill', 'none'); boxR.setAttribute('stroke', AXC); boxR.setAttribute('stroke-width', 2.5);
  gR.appendChild(boxR);
  rightTicks[i].forEach((t, k) => {
    const y = yVal(t, rightMax[i], top);
    [[RX0, RX0 + 8], [RX1 - 8, RX1]].forEach((xx) => {
      const tk = make('line');
      
      
      tk.setAttribute('x1', xx[0]); tk.setAttribute('x2', xx[1]);
      tk.setAttribute('y1', y); tk.setAttribute('y2', y);
      tk.setAttribute('stroke', AXC); tk.setAttribute('stroke-width', 2);
      gR.appendChild(tk);
    });
    const tl = make('text');
    
    
    tl.setAttribute('x', 1660); tl.setAttribute('y', Math.min(y + 16, bot + 16));
    tl.setAttribute('font-family', FONT);
    tl.setAttribute('font-size', 48); tl.setAttribute('text-anchor', 'end'); tl.setAttribute('fill', '#222');
    tl.textContent = rightTickLabels[i][k];
    gR.appendChild(tl);
  });
  [6, 12, 18].forEach((h) => {
    [[top, top + 8], [bot - 8, bot]].forEach((yy) => {
      const tk = make('line');
      
      
      tk.setAttribute('x1', xHour(h)); tk.setAttribute('x2', xHour(h));
      tk.setAttribute('y1', yy[0]); tk.setAttribute('y2', yy[1]);
      tk.setAttribute('stroke', AXC); tk.setAttribute('stroke-width', 2);
      gR.appendChild(tk);
    });
  });
}

mzTicks.forEach((m, k) => {
  const t = make('text');
  
  
  t.setAttribute('x', xMz(m)); t.setAttribute('y', 2852);
  t.setAttribute('font-family', FONT);
  t.setAttribute('font-size', 48); t.setAttribute('text-anchor', 'middle'); t.setAttribute('fill', '#222');
  t.textContent = mzTickLabels[k];
  svg.appendChild(t);
});
hourTicks.forEach((h, k) => {
  const t = make('text');
  
  
  t.setAttribute('x', xHour(h)); t.setAttribute('y', 2852);
  t.setAttribute('font-family', FONT);
  t.setAttribute('font-size', 48); t.setAttribute('text-anchor', 'middle'); t.setAttribute('fill', '#222');
  t.textContent = hourTickLabels[k];
  svg.appendChild(t);
});

annotations.forEach((a) => {
  const g = make('g');
  
  
  svg.appendChild(g);
  if (a[0]) {
    const t = make('text');
    
    
    t.setAttribute('x', a[1]); t.setAttribute('y', a[2]);
    t.setAttribute('font-family', FONT);
    t.setAttribute('font-size', 36); t.setAttribute('fill', '#000');
    const s = a[0];
    let i = 0, sub = false;
    while (i < s.length) {
      const ts = make('tspan');
      if (s[i] === '_') {
        const end = s.indexOf('}', i);
        ts.textContent = s.slice(i + 2, end);
        ts.setAttribute('font-size', 25);
        if (!sub) ts.setAttribute('dy', 11);
        sub = true; i = end + 1;
      } else {
        let j = i; while (j < s.length && s[j] !== '_') j++;
        ts.textContent = s.slice(i, j);
        if (sub) ts.setAttribute('dy', -11);
        sub = false; i = j;
      }
      t.appendChild(ts);
    }
    g.appendChild(t);
  }
  const ln = make('line');
  
  
  ln.setAttribute('x1', a[3]); ln.setAttribute('y1', a[4]);
  ln.setAttribute('x2', a[5]); ln.setAttribute('y2', a[6]);
  ln.setAttribute('stroke', '#000'); ln.setAttribute('stroke-width', 2);
  ln.setAttribute('marker-end', 'url(#arrowhead)');
  g.appendChild(ln);
});
</script>
</body></html>
